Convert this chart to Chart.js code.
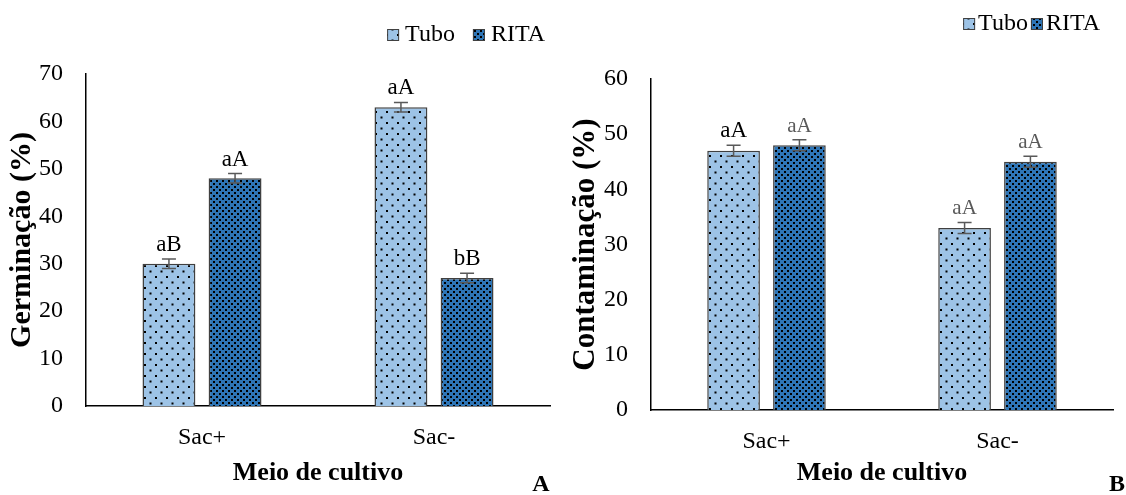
<!DOCTYPE html>
<html>
<head>
<meta charset="utf-8">
<script src="https://cdn.jsdelivr.net/npm/chart.js@4.4.1/dist/chart.umd.min.js"></script>
<style>
  html, body { margin: 0; padding: 0; background: #fff; }
  #wrap { position: relative; width: 1126px; height: 495px; }
  #germ { position: absolute; left: 0; top: 0; }
  #cont { position: absolute; left: 565px; top: 0; }
</style>
</head>
<body>
<div id="wrap">
  <canvas id="germ" width="560" height="495"></canvas>
  <canvas id="cont" width="561" height="495"></canvas>
</div>
<script>
// data
const categories = ['Sac+', 'Sac-'];
const seriesNames = ['Tubo', 'RITA'];

const germTubo = [30, 63];
const germRita = [48, 27];
const germTuboErr = [1, 1];
const germRitaErr = [1, 1];
const germTuboMarks = ['aB', 'aA'];
const germRitaMarks = ['aA', 'bB'];
const germTicks = [0, 10, 20, 30, 40, 50, 60, 70];

const contTubo = [47, 33];
const contRita = [48, 45];
const contTuboErr = [1, 1];
const contRitaErr = [1, 1];
const contTuboMarks = ['aA', 'aA'];
const contRitaMarks = ['aA', 'aA'];
const contTicks = [0, 10, 20, 30, 40, 50, 60];

const SERIF = "'Liberation Serif', 'Times New Roman', serif";

// fill patterns (Excel-like)
function dotPattern() {
  const c = document.createElement('canvas');
  c.width = 11; c.height = 11;
  const g = c.getContext('2d');
  g.fillStyle = '#9DC3E6';
  g.fillRect(0, 0, 11, 11);
  g.fillStyle = '#000';
  g.fillRect(1, 1, 2, 2);
  g.fillRect(6.5, 6.5, 2, 2);
  return g.createPattern(c, 'repeat');
}
function checkPattern() {
  const c = document.createElement('canvas');
  c.width = 6; c.height = 6;
  const g = c.getContext('2d');
  g.fillStyle = '#2E75B6';
  g.fillRect(0, 0, 6, 6);
  g.fillStyle = '#000';
  g.fillRect(0, 0, 2, 2);
  g.fillRect(3, 3, 2, 2);
  return g.createPattern(c, 'repeat');
}
const tuboFill = dotPattern();
const ritaFill = checkPattern();

// error bars, letters above bars, legend and panel letter
const extras = {
  id: 'extras',
  afterDatasetsDraw(chart, args, o) {
    const ctx = chart.ctx;
    const y = chart.scales.y;
    ctx.save();
    chart.data.datasets.forEach((ds, di) => {
      const meta = chart.getDatasetMeta(di);
      meta.data.forEach((bar, i) => {
        const v = ds.data[i], e = ds.errors[i];
        const top = y.getPixelForValue(v + e);
        const bot = y.getPixelForValue(v - e);
        ctx.strokeStyle = '#595959';
        ctx.lineWidth = 1.5;
        ctx.beginPath();
        ctx.moveTo(bar.x, top); ctx.lineTo(bar.x, bot);
        ctx.moveTo(bar.x - 7, top); ctx.lineTo(bar.x + 7, top);
        ctx.moveTo(bar.x - 7, bot); ctx.lineTo(bar.x + 7, bot);
        ctx.stroke();
        const st = o.markStyle[di][i];
        ctx.fillStyle = st.color;
        ctx.font = st.size + 'px ' + SERIF;
        ctx.textAlign = 'center';
        ctx.textBaseline = 'alphabetic';
        ctx.fillText(ds.marks[i], bar.x, top - 8);
      });
    });

    // legend, right aligned at o.legendEnd
    ctx.font = o.legendSize + 'px ' + SERIF;
    ctx.textBaseline = 'middle';
    ctx.textAlign = 'left';
    let x = o.legendEnd;
    const items = chart.data.datasets.slice().reverse();
    items.forEach(ds => {
      const w = ctx.measureText(ds.label).width;
      x -= w;
      ctx.fillStyle = '#000';
      ctx.fillText(ds.label, x, o.legendY);
      x -= o.boxGap + 12;
      ctx.fillStyle = ds.backgroundColor;
      ctx.fillRect(x, o.legendY - 6, 12, 12);
      ctx.strokeStyle = '#404040';
      ctx.lineWidth = 1;
      ctx.strokeRect(x + 0.5, o.legendY - 5.5, 11, 11);
      x -= o.itemGap;
    });

    // panel letter
    ctx.font = 'bold 24px ' + SERIF;
    ctx.fillStyle = '#000';
    ctx.textAlign = 'center';
    ctx.textBaseline = 'alphabetic';
    ctx.fillText(o.letter, o.letterX, 491);
    ctx.restore();
  }
};

function makeChart(id, tubo, rita, tuboErr, ritaErr, tuboMarks, ritaMarks, ticks, yTitle, p) {
  return new Chart(document.getElementById(id), {
    type: 'bar',
    data: {
      labels: categories,
      datasets: [
        { label: seriesNames[0], data: tubo, errors: tuboErr, marks: tuboMarks,
          backgroundColor: tuboFill, borderColor: '#404040', borderWidth: 1.5 },
        { label: seriesNames[1], data: rita, errors: ritaErr, marks: ritaMarks,
          backgroundColor: ritaFill, borderColor: '#404040', borderWidth: 1.5 }
      ]
    },
    options: {
      responsive: false,
      animation: false,
      layout: { padding: { left: 0, right: p.padRight, top: p.padTop, bottom: 0 } },
      datasets: { bar: { categoryPercentage: 0.57, barPercentage: 0.8 } },
      plugins: {
        legend: { display: false },
        tooltip: { enabled: false },
        extras: p.extras
      },
      scales: {
        x: {
          grid: { display: false, drawTicks: false },
          border: { display: true, color: '#000', width: 1.5 },
          ticks: { color: '#000', padding: 17, font: { family: SERIF, size: 24 } },
          title: { display: true, text: 'Meio de cultivo', color: '#000',
                   padding: { top: 0, bottom: 6 },
                   font: { family: SERIF, size: 26, weight: 'bold' } },
          afterFit: s => { s.height = p.xHeight; }
        },
        y: {
          min: 0,
          max: ticks[ticks.length - 1],
          afterBuildTicks: s => { s.ticks = ticks.map(v => ({ value: v })); },
          grid: { display: false, drawTicks: false },
          border: { display: true, color: '#000', width: 1.5 },
          ticks: { color: '#000', padding: 23, font: { family: SERIF, size: 24 } },
          title: { display: true, text: yTitle, color: '#000',
                   padding: { top: p.yTitlePad, bottom: 0 },
                   font: { family: SERIF, size: p.yTitleSize, weight: 'bold' } },
          afterFit: s => { s.width = 86; }
        }
      }
    },
    plugins: [extras]
  });
}

makeChart('germ', germTubo, germRita, germTuboErr, germRitaErr, germTuboMarks, germRitaMarks,
  germTicks, 'Germinação (%)', {
    padRight: 10, padTop: 74, xHeight: 89, yTitleSize: 30, yTitlePad: 4,
    extras: {
      markStyle: [[{ color: '#000', size: 23 }, { color: '#000', size: 23 }],
                  [{ color: '#000', size: 23 }, { color: '#000', size: 23 }]],
      legendEnd: 545, legendY: 35, legendSize: 24, boxGap: 6, itemGap: 18,
      letter: 'A', letterX: 541
    }
  });

makeChart('cont', contTubo, contRita, contTuboErr, contRitaErr, contTuboMarks, contRitaMarks,
  contTicks, 'Contaminação (%)', {
    padRight: 13, padTop: 79, xHeight: 85, yTitleSize: 31, yTitlePad: 2,
    extras: {
      markStyle: [[{ color: '#000', size: 23 }, { color: '#595959', size: 21 }],
                  [{ color: '#595959', size: 21 }, { color: '#595959', size: 21 }]],
      legendEnd: 535, legendY: 24, legendSize: 24, boxGap: 3, itemGap: 3,
      letter: 'B', letterX: 552
    }
  });
</script>
</body>
</html>
